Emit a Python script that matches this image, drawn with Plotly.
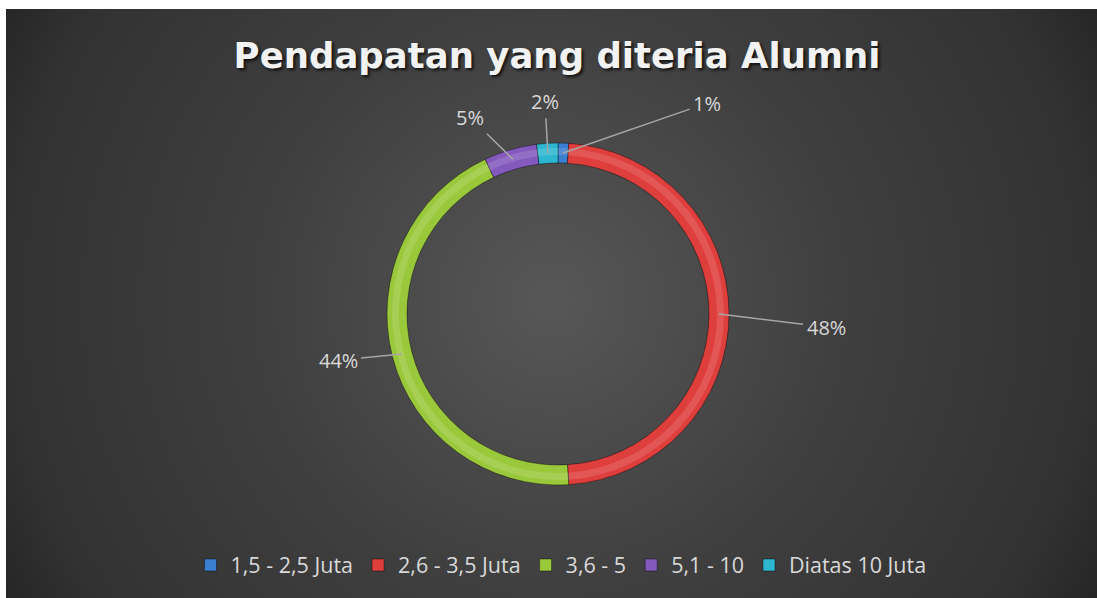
import base64
import math
import plotly.graph_objects as go

# ---- data ----
categories = ["1,5 - 2,5 Juta", "2,6 - 3,5 Juta", "3,6 - 5", "5,1 - 10", "Diatas 10 Juta"]
percentages = [1, 48, 44, 5, 2]
colors = ["#3a7fd0", "#de3f3d", "#99c83b", "#8459bd", "#2cb6cf"]
title_text = "Pendapatan yang diteria Alumni"

# label offsets (pixels) from slice midpoint to label text (style)
label_offsets = [(144, -50), (107, 13), (-64, 6), (-43, -42), (-3, -52)]

W, H = 1097, 598
cx_px, cy_px, r_out = 558, 314, 171
ring = 20

# background radial gradient as SVG image
svg = f'''<svg xmlns="http://www.w3.org/2000/svg" width="1091" height="589" viewBox="0 0 1091 589" preserveAspectRatio="none">
<defs><radialGradient id="g" gradientUnits="userSpaceOnUse" cx="545" cy="291" r="620">
<stop offset="0" stop-color="#575757"/><stop offset="0.47" stop-color="#3f3f3f"/>
<stop offset="0.87" stop-color="#323232"/><stop offset="1" stop-color="#262626"/>
</radialGradient></defs><rect width="1091" height="589" fill="url(#g)"/></svg>'''
bg_uri = "data:image/svg+xml;base64," + base64.b64encode(svg.encode()).decode()


def domain_for(r):
    return dict(x=[(cx_px - r) / W, (cx_px + r) / W],
                y=[1 - (cy_px + r) / H, 1 - (cy_px - r) / H])


fig = go.Figure()
fig.add_trace(go.Pie(
    labels=categories,
    values=percentages,
    marker=dict(colors=colors, line=dict(color="rgba(0,0,0,0.4)", width=1)),
    hole=(r_out - ring) / r_out,
    sort=False,
    direction="clockwise",
    rotation=0,
    textinfo="none",
    domain=domain_for(r_out),
    showlegend=True,
))
# subtle highlight band to give the ring a tube look
r_hi = r_out - 5
fig.add_trace(go.Pie(
    labels=categories,
    values=percentages,
    marker=dict(colors=["rgba(255,255,255,0.13)"] * len(categories), line=dict(width=0)),
    hole=(r_hi - 7) / r_hi,
    sort=False,
    direction="clockwise",
    rotation=0,
    textinfo="none",
    hoverinfo="skip",
    domain=domain_for(r_hi),
    showlegend=False,
))

# percentage labels with leader lines, positioned at slice midpoints
total = sum(percentages)
cum = 0
r_mid = r_out - ring / 2
annotations = []
for v, (ax, ay) in zip(percentages, label_offsets):
    mid = (cum + v / 2) / total * 2 * math.pi
    cum += v
    px = cx_px + r_mid * math.sin(mid)
    py = cy_px - r_mid * math.cos(mid)
    annotations.append(dict(
        x=px / W, y=1 - py / H, xref="paper", yref="paper",
        text=f"{v}%", showarrow=True, arrowhead=0, arrowwidth=1.5,
        arrowcolor="#a6a6a6", ax=ax, ay=ay, standoff=0, startstandoff=2,
        font=dict(family="Open Sans", size=20, color="#d9d9d9"),
    ))

fig.update_layout(
    width=W, height=H,
    margin=dict(l=0, r=0, t=0, b=0),
    paper_bgcolor="#ffffff",
    plot_bgcolor="rgba(0,0,0,0)",
    images=[dict(source=bg_uri, xref="paper", yref="paper",
                 x=6 / W, y=1 - 9 / H, sizex=1 - 6 / W, sizey=1 - 9 / H,
                 xanchor="left", yanchor="top", sizing="stretch", layer="below")],
    title=dict(text=title_text, x=557 / W, xanchor="center",
               y=1 - 56 / H, yanchor="middle",
               font=dict(family="DejaVu Sans", size=35.5, color="#f2f2f2", weight="bold",
                         shadow="2px 2px 3px rgba(0,0,0,0.75)")),
    legend=dict(orientation="h", x=561 / W, xanchor="center", y=1 - 565 / H, yanchor="middle",
                font=dict(family="Open Sans", size=21.5, color="#d9d9d9"),
                bgcolor="rgba(0,0,0,0)", itemwidth=30, traceorder="normal"),
    annotations=annotations,
)

fig.write_html("out.html", config={"displayModeBar": False},
               post_script="document.body.style.margin='0';document.body.style.overflow='hidden';")
